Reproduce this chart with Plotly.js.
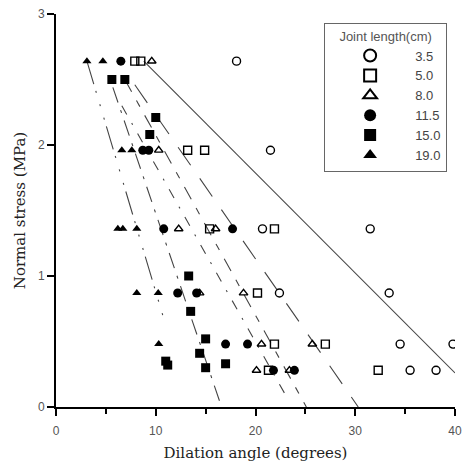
<!DOCTYPE html>
<html>
<head>
<meta charset="utf-8">
<script src="https://cdn.plot.ly/plotly-3.0.1.min.js"></script>
<style>html,body{margin:0;padding:0;background:#fff}#chart{width:462px;height:464px}</style>
</head>
<body>
<div id="chart"></div>
<script>
// Legend labels (joint length, cm)
const seriesNames = ["3.5", "5.0", "8.0", "11.5", "15.0", "19.0"];

// Joint length 3.5 cm (open circles)
const c35_x = [18.1, 21.5, 20.7, 31.5, 22.4, 33.4, 34.5, 39.8, 35.5, 38.1];
const c35_y = [2.64, 1.96, 1.36, 1.36, 0.87, 0.87, 0.48, 0.48, 0.28, 0.28];
// Joint length 5.0 cm (open squares)
const s50_x = [7.9, 8.5, 13.2, 14.9, 15.4, 21.9, 20.2, 21.9, 27.0, 21.3, 32.3];
const s50_y = [2.64, 2.64, 1.96, 1.96, 1.36, 1.36, 0.87, 0.48, 0.48, 0.28, 0.28];
// Joint length 8.0 cm (open triangles)
const t80_x = [9.6, 10.3, 12.3, 16.0, 14.4, 18.8, 20.6, 25.7, 20.1, 23.4];
const t80_y = [2.64, 1.96, 1.36, 1.36, 0.87, 0.87, 0.48, 0.48, 0.28, 0.28];
// Joint length 11.5 cm (filled circles)
const fc115_x = [6.5, 8.7, 9.3, 10.8, 17.7, 12.2, 14.1, 17.0, 19.2, 21.8, 23.9];
const fc115_y = [2.64, 1.96, 1.96, 1.36, 1.36, 0.87, 0.87, 0.48, 0.48, 0.28, 0.28];
// Joint length 15.0 cm (filled squares)
const fs150_x = [5.6, 6.9, 10.0, 9.4, 13.3, 13.5, 15.0, 14.4, 11.0, 11.2, 15.0, 17.0];
const fs150_y = [2.5, 2.5, 2.21, 2.08, 1.0, 0.73, 0.52, 0.41, 0.35, 0.32, 0.3, 0.33];
// Joint length 19.0 cm (filled triangles)
const ft190_x = [3.1, 4.7, 6.6, 7.6, 6.2, 6.7, 8.1, 8.1, 10.25, 10.3];
const ft190_y = [2.64, 2.64, 1.96, 1.96, 1.36, 1.36, 1.36, 0.87, 0.87, 0.48];

// Trend lines (end points)
const lineA_x = [3.1, 10.9];  const lineA_y = [2.64, 0.65];
const lineB_x = [5.7, 16.6];  const lineB_y = [2.44, 0.0];
const lineF_x = [6.6, 23.1];  const lineF_y = [2.3, 0.08];
const lineE_x = [6.9, 25.1];  const lineE_y = [2.5, 0.0];
const lineD_x = [7.9, 30.3];  const lineD_y = [2.46, 0.0];
const lineS_x = [8.8, 40.0];  const lineS_y = [2.64, 0.26];

// Axis ticks
const xTicks = [0, 10, 20, 30, 40];
const yTicks = [0, 1, 2, 3];

const lineColor = "#444";
function trend(x, y, dash) {
  return {x: x, y: y, type: "scatter", mode: "lines", showlegend: false, hoverinfo: "skip",
          line: {color: lineColor, width: 1.1, dash: dash}};
}
function pts(x, y, name, symbol, size) {
  const open = symbol.indexOf("open") >= 0;
  return {x: x, y: y, type: "scatter", mode: "markers", name: name,
          marker: {symbol: symbol, size: size, color: "#000",
                   line: {color: "#000", width: open ? 1.4 : 0}}};
}

const data = [
  trend(lineA_x, lineA_y, "24px,7px,2px,12px,2px,12px,2px,7px"),
  trend(lineB_x, lineB_y, "16px,8px,3px,8px"),
  trend(lineF_x, lineF_y, "10px,10px,2px,10px"),
  trend(lineE_x, lineE_y, "14px,10px,7px,10px"),
  trend(lineD_x, lineD_y, "22px,16px"),
  trend(lineS_x, lineS_y, "solid"),
  pts(c35_x, c35_y, seriesNames[0], "circle-open", 8),
  pts(s50_x, s50_y, seriesNames[1], "square-open", 8),
  pts(t80_x, t80_y, seriesNames[2], "triangle-up-open", 7.5),
  pts(fc115_x, fc115_y, seriesNames[3], "circle", 9),
  pts(fs150_x, fs150_y, seriesNames[4], "square", 9),
  pts(ft190_x, ft190_y, seriesNames[5], "triangle-up", 8)
];

const serif = "DejaVu Serif, Liberation Serif, serif";
const layout = {
  width: 462, height: 464,
  margin: {l: 56, r: 7, t: 14, b: 57},
  paper_bgcolor: "#fff", plot_bgcolor: "#fff",
  font: {family: "Liberation Sans, Arial, sans-serif", color: "#555", size: 12},
  xaxis: {
    range: [0, 40], tickvals: xTicks, ticktext: xTicks.map(String),
    showgrid: false, zeroline: false, showline: true, linecolor: "#000", linewidth: 2,
    ticks: "outside", ticklen: 7, tickwidth: 2, tickcolor: "#000",
    minor: {dtick: 5, tick0: 0, ticks: "outside", ticklen: 5, tickwidth: 2, tickcolor: "#000"},
    ticklabelstandoff: 5,
    tickfont: {size: 12, color: "#555"},
    title: {text: "Dilation angle (degrees)", standoff: 10,
            font: {family: serif, size: 15, color: "#222"}}
  },
  yaxis: {
    range: [0, 3], tickvals: yTicks, ticktext: yTicks.map(String),
    showgrid: false, zeroline: false, showline: true, linecolor: "#000", linewidth: 2,
    ticks: "outside", ticklen: 7, tickwidth: 2, tickcolor: "#000",
    tickfont: {size: 12, color: "#555"},
    title: {text: "Normal stress (MPa)", standoff: 9,
            font: {family: serif, size: 15, color: "#222"}}
  },
  showlegend: true,
  legend: {
    x: 0.672, y: 0.978, xanchor: "left", yanchor: "top",
    bgcolor: "#fff", bordercolor: "#666", borderwidth: 1,
    itemsizing: "constant", itemwidth: 80,
    font: {size: 13, color: "#444"},
    title: {text: "Joint length(cm)", side: "top center", font: {size: 13, color: "#555"}}
  }
};

Plotly.newPlot("chart", data, layout, {displayModeBar: false, staticPlot: true});
</script>
</body>
</html>
